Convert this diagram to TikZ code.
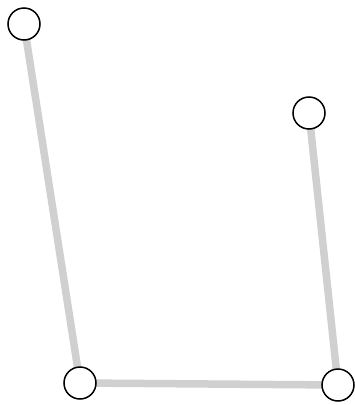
\documentclass[tikz,border=0pt]{standalone}
\usetikzlibrary{backgrounds}
\begin{document}
\begin{tikzpicture}[x=1pt,y=-1pt,
  vertex/.style={circle,draw=black,fill=white,line width=1.5pt,minimum size=32pt,inner sep=0pt},
  edge/.style={draw={rgb,255:red,208;green,208;blue,208},line width=7.5pt}]
\useasboundingbox (0,0) rectangle (355,405);
\node[vertex] (a) at (24,24) {};
\node[vertex] (b) at (309,113) {};
\node[vertex] (c) at (80,383) {};
\node[vertex] (d) at (338,385) {};
\begin{scope}[on background layer]
\path[edge] (a.center) -- (c.center);
\path[edge] (c.center) -- (d.center);
\path[edge] (b.center) -- (d.center);
\end{scope}
\end{tikzpicture}
\end{document}
